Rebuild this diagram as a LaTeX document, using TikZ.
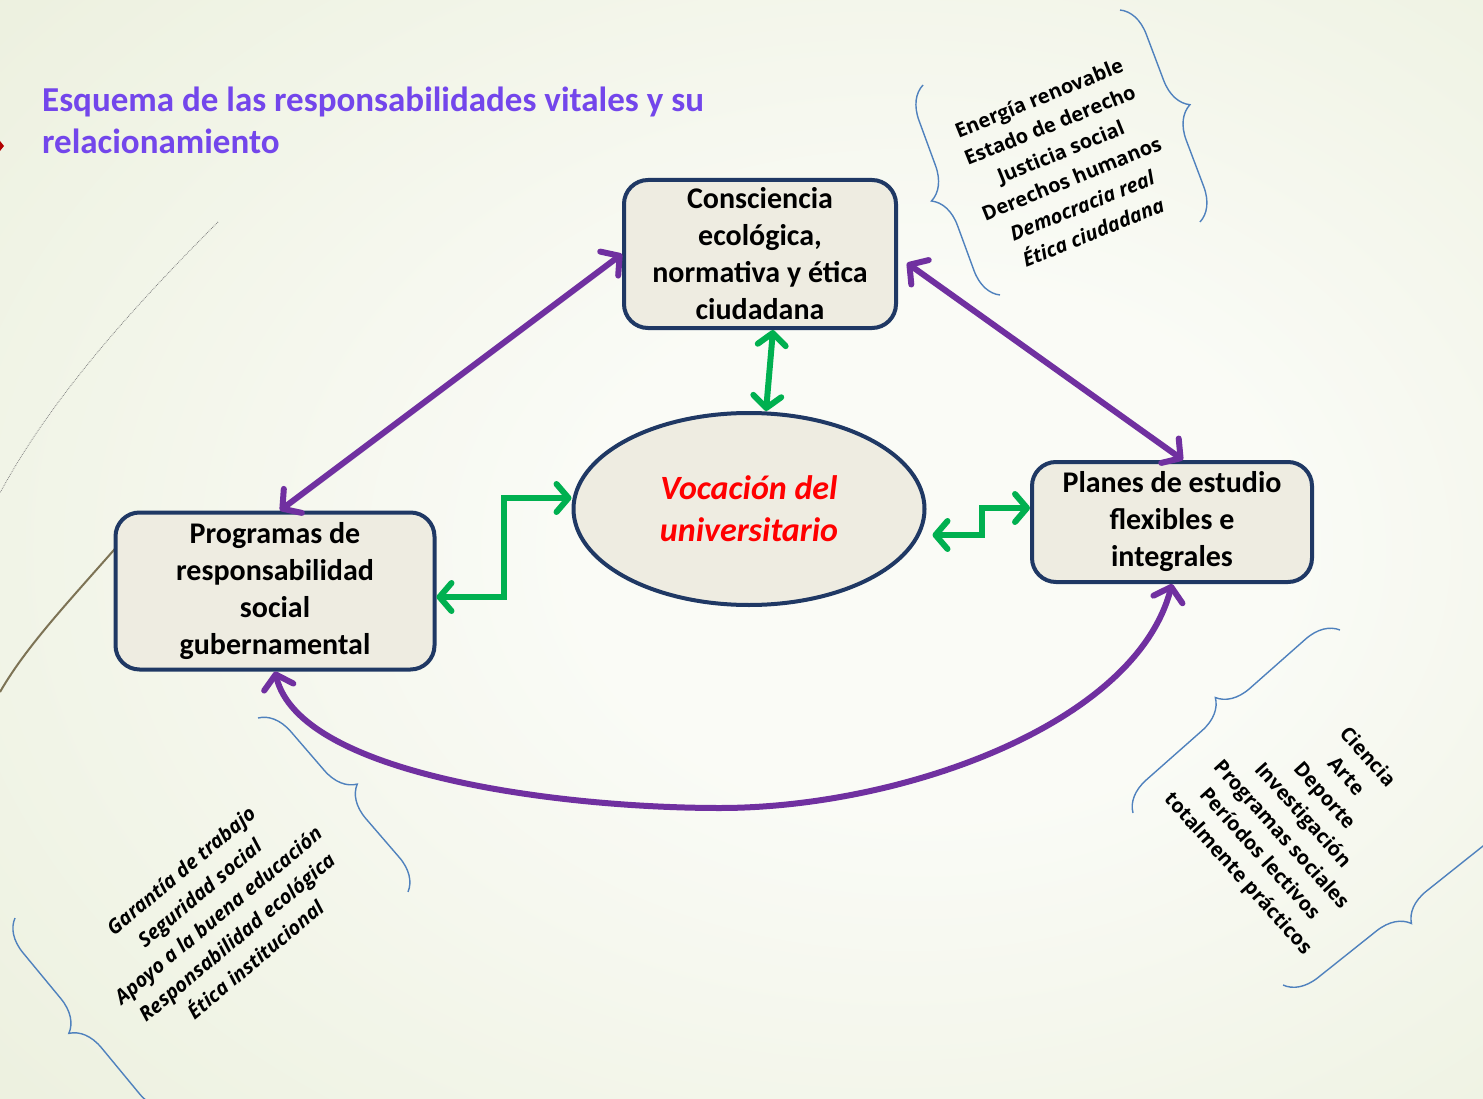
\documentclass[tikz,border=0pt]{standalone}
\usepackage{fontspec}
\setmainfont{Carlito}
\newfontfamily\listafont{Open Sans}
\usetikzlibrary{arrows.meta,calc,shapes.geometric,decorations.pathreplacing}
\definecolor{titulo}{RGB}{115,70,235}
\definecolor{morado}{RGB}{112,48,160}
\definecolor{verde}{RGB}{0,176,80}
\definecolor{borde}{RGB}{31,56,100}
\definecolor{relleno}{RGB}{238,236,225}
\definecolor{llave}{RGB}{79,129,189}
\definecolor{oliva}{RGB}{125,115,85}
\definecolor{fondoclaro}{RGB}{250,251,246}
\definecolor{fondoverde}{RGB}{224,231,202}
\pgfdeclareradialshading{fondo}{\pgfpoint{8bp}{0bp}}{color(0bp)=(fondoclaro); color(12bp)=(fondoclaro); color(62bp)=(fondoverde)}
\tikzset{
  caja/.style={draw=borde,fill=relleno,line width=4pt,rounded corners=24pt,
               align=center,inner sep=0pt,font=\fontsize{30}{37}\selectfont\bfseries},
  vocacion/.style={ellipse,draw=borde,fill=relleno,line width=4pt,align=center,
                   inner sep=0pt,text=red,font=\fontsize{34}{42}\selectfont\bfseries\itshape},
  flechamorada/.style={{Straight Barb[length=13pt,width=30pt,round]}-{Straight Barb[length=13pt,width=30pt,round]},
                       line width=6pt,morado},
  flechaverde/.style={{Straight Barb[length=12pt,width=28pt,round]}-{Straight Barb[length=12pt,width=28pt,round]},
                      line width=6pt,verde},
  lista/.style={align=center,inner sep=0pt,font=\listafont\fontsize{20}{29}\selectfont\bfseries},
  llaves/.style={draw=llave,line width=1.4pt,decorate,decoration={brace,amplitude=32pt}},
}

\begin{document}
\begin{tikzpicture}[x=1pt,y=-1pt]
  \useasboundingbox (0,0) rectangle (1483,1099);
  \clip (0,0) rectangle (1483,1099);
  \shade[shading=fondo] (0,0) rectangle (1483,1099);
  % adornos del borde izquierdo
  \draw[gray,densely dotted,line width=0.8pt] (218,222) .. controls (130,310) and (50,400) .. (0,493);
  \draw[oliva,line width=2pt] (140,520) .. controls (80,590) and (30,640) .. (0,692);
  \fill[red!70!black] (0,141) -- (4,146) -- (0,151) -- cycle;

  \node[anchor=north west,inner sep=0pt,align=left,text=titulo,
        font=\fontsize{35}{42}\selectfont\bfseries] (titulo) at (42,87)
        {Esquema de las responsabilidades vitales y su\\relacionamiento};

  \node[caja,minimum width=272,minimum height=148] (cons) at (760,254)
        {Consciencia\\ecológica,\\normativa y ética\\ciudadana};
  \node[caja,minimum width=319,minimum height=157] (prog) at (275,591)
        {Programas de\\responsabilidad\\social\\gubernamental};
  \node[caja,minimum width=280,minimum height=120] (plan) at (1172,522)
        {Planes de estudio\\flexibles e\\integrales};
  \node[vocacion,minimum width=351,minimum height=192] (voc) at (749,509)
        {Vocación del\\universitario};

  \draw[flechamorada] (cons.west) -- ([xshift=5pt]prog.north);
  \draw[flechamorada] ([xshift=9pt,yshift=-9pt]cons.east) -- ([xshift=11pt]plan.north);
  \draw[flechamorada] (prog.south) .. controls (300,775) and (560,808) .. (720,808)
        .. controls (900,808) and (1135,725) .. (plan.south);

  \draw[flechaverde] ([xshift=13pt]cons.south) -- ([xshift=17pt]voc.north);
  \draw[flechaverde] ([yshift=-6pt]prog.east) -- ++(67,0) |- ([yshift=11pt]voc.west);
  \draw[flechaverde] ([xshift=6pt,yshift=-26pt]voc.east) -- ++(49,0) |- ([yshift=14pt]plan.west);

  \node[lista,rotate=22] (valores) at (1066,165)
        {Energía renovable\\Estado de derecho\\Justicia social\\Derechos humanos\\
         \textit{Democracia real}\\\textit{Ética ciudadana}};
  \draw[llaves] (1000,295) -- (923,85);
  \draw[llaves] (1120,10) -- (1200,222);

  \node[lista,rotate=-48] (saberes) at (1302,816)
        {Ciencia\\Arte\\Deporte\\Investigación\\Programas sociales\\Períodos lectivos\\totalmente prácticos};
  \draw[llaves] (1133,813) -- (1340,630);
  \draw[llaves] (1500,812) -- (1283,985);

  \node[lista,rotate=40,font=\listafont\fontsize{20}{29}\selectfont\bfseries\itshape] (garantias) at (218,915)
        {Garantía de trabajo\\Seguridad social\\Apoyo a la buena educación\\Responsabilidad ecológica\\Ética institucional};
  \draw[llaves] (258,718) -- (408,892);
  \draw[llaves] (172,1108) -- (15,918);
\end{tikzpicture}
\end{document}
